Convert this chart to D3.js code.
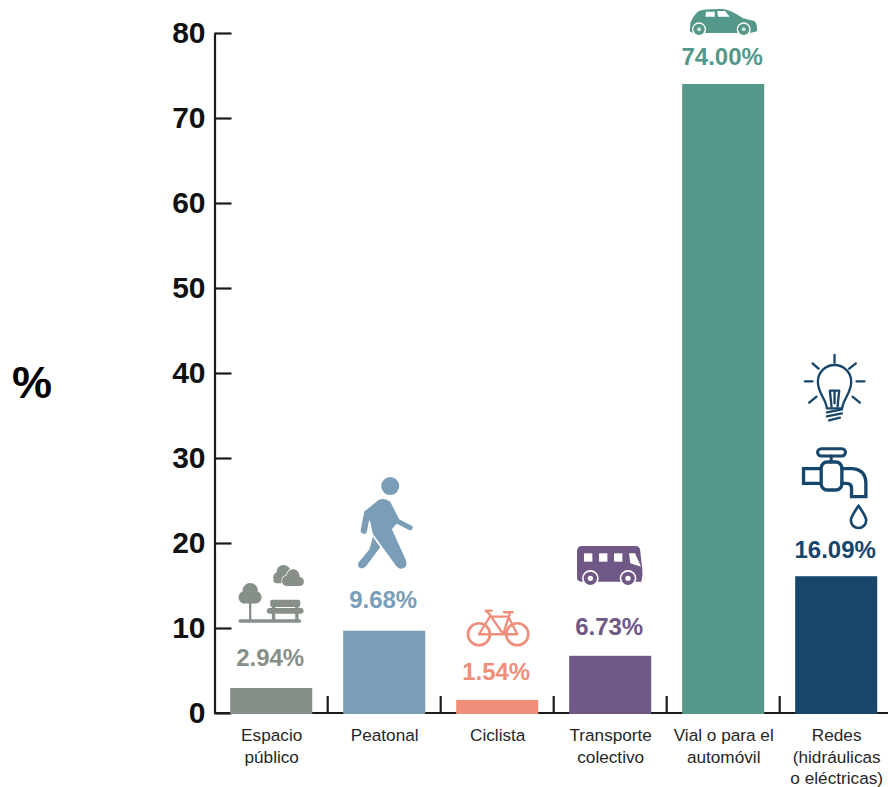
<!DOCTYPE html>
<html lang="es">
<head>
<meta charset="utf-8">
<script src="https://cdn.jsdelivr.net/npm/d3@7/dist/d3.min.js"></script>
<style>
  html, body { margin: 0; background: #fff; }
  svg { display: block; }
  text { font-family: "Liberation Sans", Arial, sans-serif; }
</style>
</head>
<body>
<svg id="chart" width="888" height="787"></svg>
<script>
// Inversión por tipo de infraestructura (%)
const categories = ["Espacio público", "Peatonal", "Ciclista", "Transporte colectivo", "Vial o para el automóvil", "Redes (hidráulicas o eléctricas)"];
const values = [2.94, 9.68, 1.54, 6.73, 74.00, 16.09];
const yTicks = [0, 10, 20, 30, 40, 50, 60, 70, 80];
const categoryLines = [["Espacio", "público"], ["Peatonal"], ["Ciclista"], ["Transporte", "colectivo"], ["Vial o para el", "automóvil"], ["Redes", "(hidráulicas", "o eléctricas)"]];
const colors = ["#868F88", "#7A9DB8", "#F08E7C", "#6F5885", "#54988A", "#17466C"];
const labelGaps = [22, 23, 19.5, 21, 19, 18];

const svg = d3.select("#chart");
const y = d3.scaleLinear().domain([0, 80]).range([713, 33]);
const x = d3.scaleBand().domain(categories).range([214.7, 892.7]).paddingInner(0.274).paddingOuter(0.137);
const centre = c => x(c) + x.bandwidth() / 2;

// Bars
svg.append("g").selectAll("rect").data(categories).join("rect")
  .attr("x", c => x(c)).attr("width", x.bandwidth())
  .attr("y", (c, i) => y(values[i])).attr("height", (c, i) => y(0) - y(values[i]))
  .attr("fill", (c, i) => colors[i]);

// Value axis with inward ticks
const yAxis = svg.append("g").attr("transform", "translate(214.5,0)")
  .call(d3.axisLeft(y).tickValues(yTicks).tickFormat(d3.format("d")).tickSizeInner(-17).tickSizeOuter(0).tickPadding(9));
yAxis.selectAll("path,line").attr("stroke", "#1a1a1a").attr("stroke-width", 2.2);
yAxis.selectAll("text").attr("font-size", 30).attr("font-weight", 700).attr("fill", "#111").attr("font-family", "Liberation Sans");

// Category axis: ticks sit between the bars and point upward
const baseline = svg.append("g").attr("transform", `translate(0,${y(0)})`);
const step = x.step();
baseline.append("line").attr("x1", 214.5).attr("x2", 888).attr("stroke", "#1a1a1a").attr("stroke-width", 2.2);
baseline.selectAll("line.sep").data(categories.slice(0, -1)).join("line").attr("class", "sep")
  .attr("x1", c => centre(c) + step / 2).attr("x2", c => centre(c) + step / 2)
  .attr("y1", 0).attr("y2", -17).attr("stroke", "#1a1a1a").attr("stroke-width", 2.2);
// Bars cover the baseline along their width
baseline.selectAll("rect").data(categories).join("rect")
  .attr("x", c => x(c)).attr("width", x.bandwidth()).attr("y", -1.5).attr("height", 2.5)
  .attr("fill", (c, i) => colors[i]);

// Category labels
const catText = svg.append("g").selectAll("text").data(categories).join("text")
  .attr("text-anchor", "middle").attr("font-size", 17.2).attr("fill", "#262626")
  .attr("y", 741);
catText.selectAll("tspan").data((c, i) => categoryLines[i].map(t => ({ t, c }))).join("tspan")
  .attr("x", d => centre(d.c) + 0.5).attr("dy", (d, i) => i ? 21.5 : 0).text(d => d.t);

// Value labels
svg.append("g").selectAll("text").data(categories).join("text")
  .attr("x", c => centre(c) - 1).attr("y", (c, i) => y(values[i]) - labelGaps[i])
  .attr("text-anchor", "middle").attr("font-size", 24).attr("font-weight", 700)
  .attr("fill", (c, i) => colors[i])
  .text((c, i) => values[i].toFixed(2) + "%");

// Axis unit
svg.append("text").attr("x", 32).attr("y", 398).attr("text-anchor", "middle")
  .attr("font-size", 45).attr("font-weight", 700).attr("fill", "#000").text("%");

// Pictograms, each placed relative to the top of its bar and drawn at 3 units per pixel
function icon(index, dx, dy) {
  const c = categories[index];
  return svg.append("g")
    .attr("transform", `translate(${centre(c) + dx},${y(values[index]) + dy}) scale(${1 / 3})`)
    .attr("fill", colors[index]).attr("stroke", colors[index])
    .attr("stroke-linecap", "round").attr("stroke-linejoin", "round");
}

// Park: tree, bench and clouds
const park = icon(0, -61, -228);
[[120, 392, 23], [104, 412, 19], [135, 412, 19], [120, 412, 20]].forEach(([cx, cy, r]) =>
  park.append("circle").attr("cx", cx).attr("cy", cy).attr("r", r).attr("stroke", "none"));
park.append("path").attr("fill", "none").attr("stroke-width", 7).attr("d", "M120,425V480");
park.append("path").attr("fill", "none").attr("stroke-width", 10).attr("d", "M90,483H268");
park.append("rect").attr("x", 180).attr("y", 419).attr("width", 90).attr("height", 22).attr("rx", 6).attr("stroke", "none");
park.append("rect").attr("x", 170).attr("y", 444).attr("width", 110).attr("height", 17).attr("rx", 8).attr("stroke", "none");
park.append("path").attr("fill", "none").attr("stroke-width", 10).attr("d", "M190,440V480M260,440V480");
// Rear cloud
[[220, 336, 21], [205, 352, 16]].forEach(([cx, cy, r]) =>
  park.append("circle").attr("cx", cx).attr("cy", cy).attr("r", r).attr("stroke", "none"));
park.append("rect").attr("x", 190).attr("y", 350).attr("width", 45).attr("height", 20).attr("rx", 9).attr("stroke", "none");
// Front cloud, outlined in white to separate it from the rear one
park.append("path").attr("stroke", "#fff").attr("stroke-width", 4).attr("paint-order", "stroke")
  .attr("d", "M228,378Q214,376 216,360Q218,348 228,348Q234,326 252,328Q268,332 268,350Q282,354 281,366Q280,378 268,378Z");

// Pedestrian
const walker = icon(1, -174, -170.7);
walker.append("circle").attr("cx", 540).attr("cy", 78).attr("r", 27).attr("stroke", "none");
walker.append("path").attr("stroke", "none")
  .attr("d", "M462,155L505,120Q525,112 540,125L568,180L545,208L587,300Q594,322 574,326Q562,326 556,315L488,222L480,185Z");
walker.append("path").attr("fill", "none").attr("stroke-width", 19).attr("d", "M471,160L461,212");
walker.append("path").attr("fill", "none").attr("stroke-width", 15).attr("d", "M550,178L600,203");
walker.append("path").attr("stroke", "none")
  .attr("d", "M488,230L510,262L468,318Q456,330 446,322Q440,314 448,304L478,268Z");

// Bicycle
const bike = icon(2, -287.25, -240);
bike.append("path").attr("fill", "none").attr("stroke-width", 8)
  .attr("d", "M807,523m-33,0a33,33 0 1,0 66,0a33,33 0 1,0 -66,0M922,523m-33,0a33,33 0 1,0 66,0a33,33 0 1,0 -66,0");
bike.append("path").attr("fill", "none").attr("stroke-width", 7)
  .attr("d", "M807,523L840,470H895L922,523H880L838,462L827,452H845M880,523L900,458M882,457H908M807,523H880");

// Bus
const bus = icon(3, -50.5, -315.8);
bus.append("path").attr("stroke", "none")
  .attr("d", "M68,618H228Q238,618 241,628L248,690Q250,705 245,725H65Q52,725 52,712V634Q52,618 68,618Z");
[73, 118, 163].forEach(wx => bus.append("rect").attr("x", wx).attr("y", 640).attr("width", 25).attr("height", 25).attr("fill", "#fff").attr("stroke", "none"));
bus.append("path").attr("fill", "#fff").attr("stroke", "none").attr("d", "M208,640H226L244,680L212,670Z");
[92, 205].forEach(wx => {
  bus.append("circle").attr("cx", wx).attr("cy", 715).attr("r", 25).attr("fill", "#fff").attr("stroke", "none");
  bus.append("circle").attr("cx", wx).attr("cy", 715).attr("r", 20).attr("stroke", "none");
  bus.append("circle").attr("cx", wx).attr("cy", 715).attr("r", 8).attr("fill", "#fff").attr("stroke", "none");
});

// Car
const car = icon(4, -63.5, -84);
car.append("path").attr("stroke", "none")
  .attr("d", "M90,94L92,70Q100,48 116,34Q130,26 190,27Q214,30 250,55L284,63Q294,72 292,94L270,99H100Z");
car.append("path").attr("fill", "#fff").attr("stroke", "none").attr("d", "M139,35H165V50H137Z");
car.append("path").attr("fill", "#fff").attr("stroke", "none").attr("d", "M173,33H196L210,50H175Z");
[118, 252].forEach(wx => {
  car.append("circle").attr("cx", wx).attr("cy", 88).attr("r", 21).attr("fill", "#fff").attr("stroke", "none");
  car.append("circle").attr("cx", wx).attr("cy", 88).attr("r", 17).attr("stroke", "none");
  car.append("circle").attr("cx", wx).attr("cy", 88).attr("r", 6).attr("fill", "#cfe3dd").attr("stroke", "none");
});

// Light bulb and water tap
const net = icon(5, -277, -236.2).attr("fill", "none");
net.append("path").attr("stroke-width", 7)
  .attr("d", "M803,205C800,175 776,160 776,125A50,50 0 1 1 876,125C876,160 852,175 849,205Z");
net.append("path").attr("stroke-width", 7).attr("d", "M817,200L812,152H840L835,200M826,152V190");
net.append("path").attr("stroke-width", 7).attr("d", "M803,217L848,208M803,229L848,220M810,241L842,233");
net.append("path").attr("stroke-width", 7)
  .attr("d", "M826,45V68M760,70L778,86M890,70L870,86M737,124H760M892,124H916M750,188L772,170M902,188L880,170");
net.append("rect").attr("x", 775).attr("y", 326).attr("width", 84).attr("height", 22).attr("rx", 11).attr("stroke-width", 9);
net.append("path").attr("stroke-width", 9).attr("d", "M816,348V365");
net.append("rect").attr("x", 786).attr("y", 366).attr("width", 62).attr("height", 84).attr("rx", 18).attr("stroke-width", 10);
net.append("path").attr("stroke-width", 10).attr("stroke-linecap", "butt").attr("stroke-linejoin", "miter").attr("d", "M786,386H733V430H786");
net.append("path").attr("stroke-width", 10).attr("stroke-linejoin", "miter")
  .attr("d", "M848,386H880Q920,390 920,430V470H877V445Q877,430 862,430H848");
net.append("path").attr("stroke-width", 8)
  .attr("d", "M898,497C884,518 875,530 875,541A23,23 0 0 0 921,541C921,530 912,518 898,497Z");
</script>
</body>
</html>
